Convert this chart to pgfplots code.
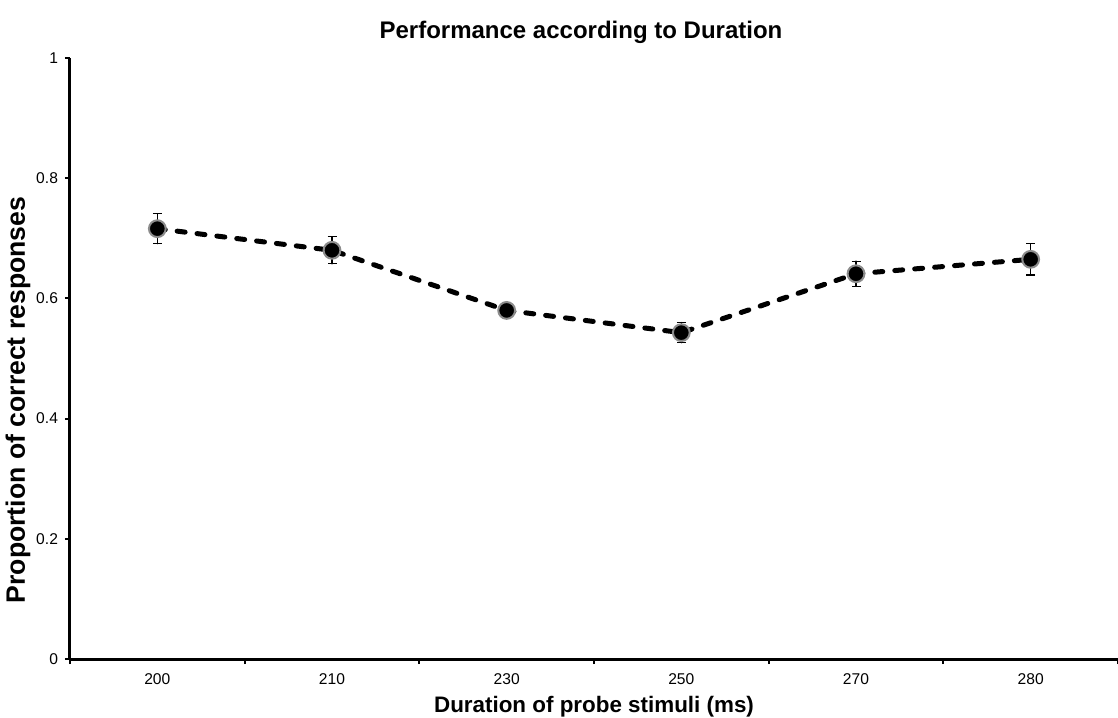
\documentclass[border=0pt]{standalone}
\usepackage{pgfplots}
\pgfplotsset{compat=1.18}
\usepackage{fontspec}
\setmainfont{Liberation Sans}
\begin{document}
\begin{tikzpicture}[x=1pt,y=1pt]
\path[use as bounding box] (-35pt,-29pt) rectangle (524pt,329.5pt);
\begin{axis}[
  at={(0,0)}, anchor=south west,
  scale only axis, width=524pt, height=300.5pt,
  xmin=-0.5, xmax=5.5, ymin=0, ymax=1,
  axis x line*=bottom, axis y line*=left,
  axis line style={line width=1.5pt, -},
  clip=false,
  xtick={-0.5,0.5,1.5,2.5,3.5,4.5,5.5},
  xticklabels={},
  extra x ticks={0,1,2,3,4,5},
  extra x tick labels={200,210,230,250,270,280},
  extra x tick style={major tick length=0pt},
  ytick={0,0.2,0.4,0.6,0.8,1},
  yticklabels={0,0.2,0.4,0.6,0.8,1},
  tick align=outside,
  major tick length=2.5pt,
  tick style={line width=1pt, black},
  tick label style={font=\fontsize{7.8}{9}\selectfont},
  xticklabel style={yshift=-4pt},
  title={\textbf{Performance according to Duration}},
  title style={font=\fontsize{12}{14}\selectfont, at={(0.4876,1)}, anchor=center, yshift=7pt},
  xlabel={\textbf{Duration of probe stimuli (ms)}},
  xlabel style={font=\fontsize{11.2}{13}\selectfont, at={(0.5,0)}, anchor=center, yshift=-24pt},
  ylabel={\textbf{Proportion of correct responses}},
  ylabel style={font=\fontsize{13.3}{15}\selectfont, at={(0,0.431)}, anchor=center, yshift=26pt},
]
\addplot[black, line width=2.5pt, dash pattern=on 4pt off 6pt, line cap=round,
  mark=*, mark options={solid, fill=black, draw=black!45, line width=1pt, mark size=4.2pt},
  error bars/.cd, y dir=both, y explicit,
  error bar style={solid, line width=0.6pt, black},
  error mark options={rotate=90, mark size=2.25pt, line width=0.6pt, solid, black}]
coordinates {
  (0,0.716) +- (0,0.025)
  (1,0.680) +- (0,0.0225)
  (2,0.580) +- (0,0.010)
  (3,0.543) +- (0,0.017)
  (4,0.641) +- (0,0.021)
  (5,0.665) +- (0,0.026)
};
\end{axis}
\end{tikzpicture}
\end{document}
